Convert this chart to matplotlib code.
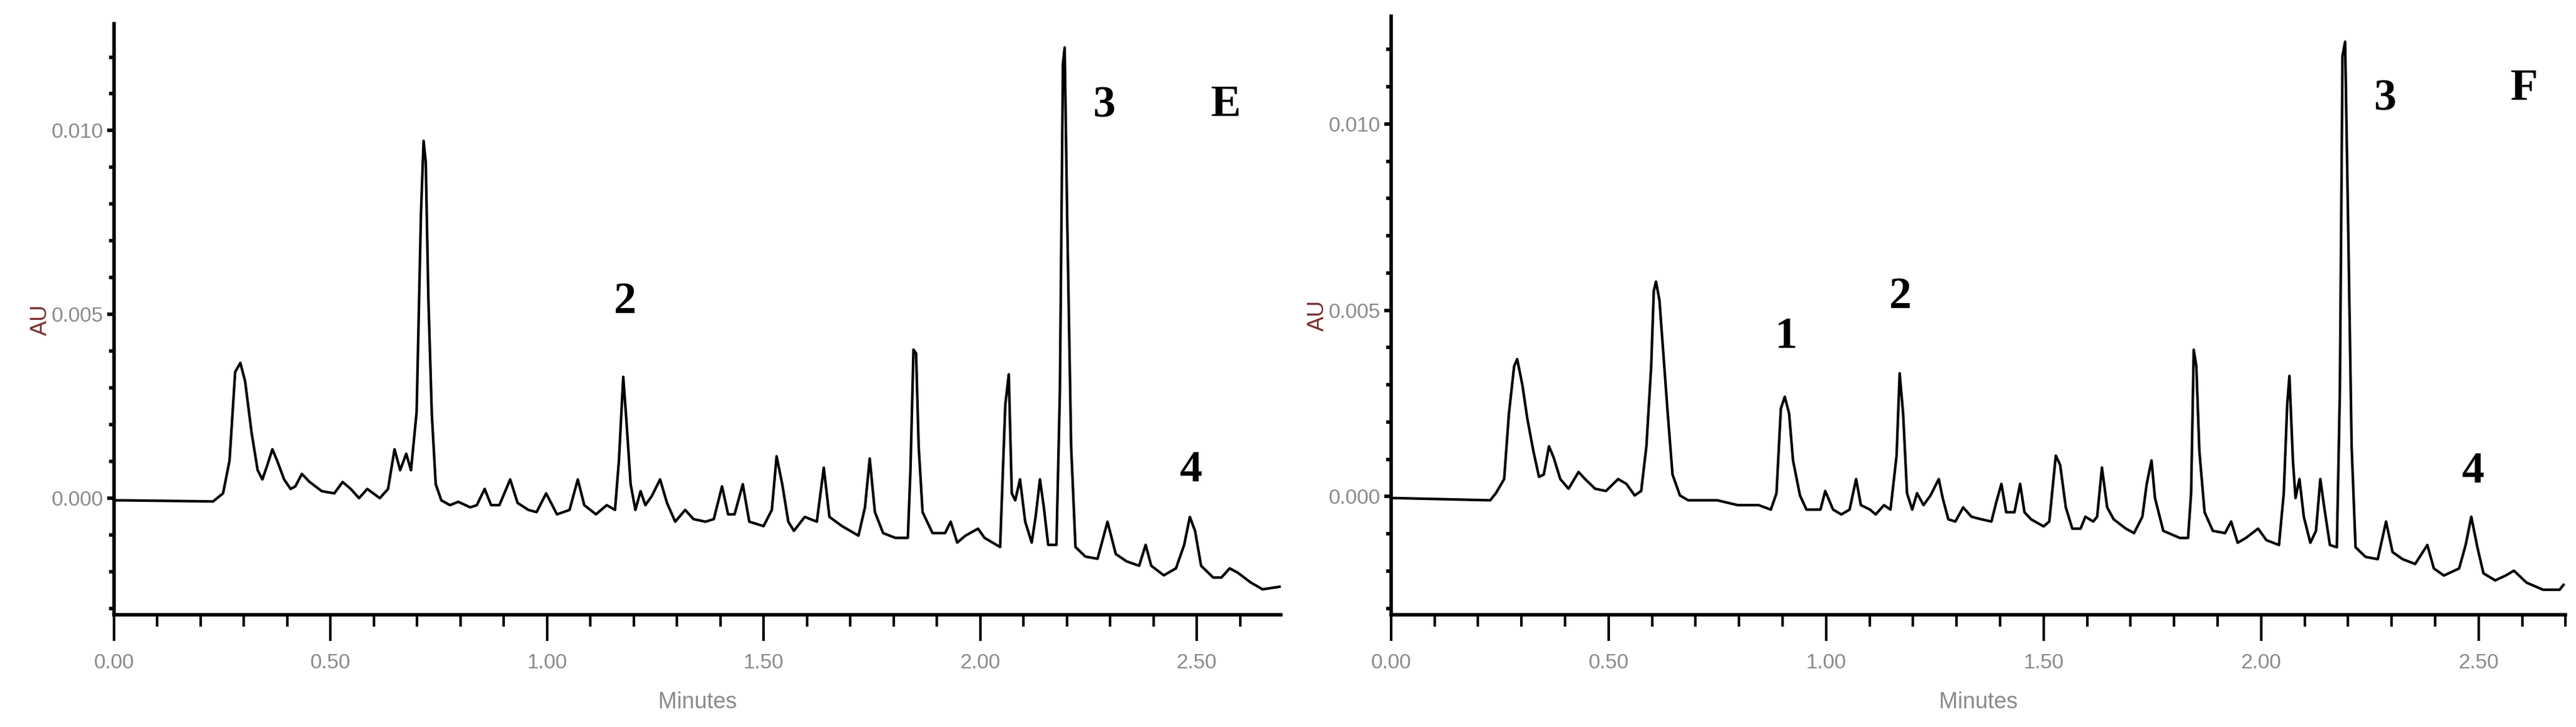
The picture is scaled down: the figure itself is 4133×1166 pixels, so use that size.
import matplotlib
matplotlib.use("Agg")
import matplotlib.pyplot as plt
from matplotlib.ticker import MultipleLocator, FormatStrFormatter

# panel E trace: time (min), absorbance (mAU)
t_e = [0.0, 0.023, 0.229, 0.252, 0.267, 0.280, 0.292, 0.303, 0.318, 0.332, 0.343, 0.354, 0.366, 0.377,
       0.393, 0.408, 0.419, 0.434, 0.452, 0.480, 0.509, 0.528, 0.547, 0.566, 0.585, 0.614, 0.633, 0.648,
       0.661, 0.675, 0.686, 0.699, 0.709, 0.715, 0.720, 0.726, 0.734, 0.743, 0.756, 0.776, 0.795, 0.823,
       0.838, 0.856, 0.871, 0.890, 0.915, 0.932, 0.957, 0.976, 0.998, 1.023, 1.052, 1.071, 1.086, 1.113,
       1.138, 1.157, 1.166, 1.176, 1.183, 1.193, 1.204, 1.216, 1.227, 1.242, 1.261, 1.277, 1.296, 1.319,
       1.338, 1.366, 1.385, 1.404, 1.418, 1.433, 1.452, 1.467, 1.500, 1.519, 1.530, 1.543, 1.557, 1.570,
       1.595, 1.623, 1.639, 1.652, 1.681, 1.719, 1.734, 1.745, 1.757, 1.776, 1.804, 1.833, 1.839, 1.846,
       1.852, 1.858, 1.867, 1.890, 1.919, 1.932, 1.947, 1.966, 1.995, 2.010, 2.046, 2.058, 2.066, 2.073,
       2.081, 2.092, 2.104, 2.119, 2.128, 2.138, 2.147, 2.157, 2.176, 2.184, 2.191, 2.195, 2.201, 2.210,
       2.220, 2.243, 2.271, 2.294, 2.313, 2.338, 2.367, 2.382, 2.395, 2.424, 2.452, 2.471, 2.484, 2.496,
       2.510, 2.538, 2.557, 2.576, 2.595, 2.624, 2.652, 2.691]
au_e = [-0.06, -0.06, -0.09, 0.13, 1.02, 3.43, 3.68, 3.18, 1.78, 0.76, 0.51, 0.89, 1.33, 1.02,
        0.51, 0.25, 0.32, 0.66, 0.44, 0.19, 0.13, 0.44, 0.25, 0.0, 0.25, 0.0, 0.25, 1.33,
        0.76, 1.21, 0.76, 2.35, 7.75, 9.72, 9.15, 5.46, 2.29, 0.38, -0.06, -0.19, -0.10, -0.25,
        -0.19, 0.25, -0.19, -0.19, 0.51, -0.13, -0.32, -0.38, 0.13, -0.44, -0.32, 0.51, -0.19, -0.44,
        -0.19, -0.32, 1.02, 3.30, 2.16, 0.38, -0.32, 0.19, -0.19, 0.06, 0.51, -0.13, -0.64, -0.32,
        -0.57, -0.64, -0.57, 0.32, -0.44, -0.44, 0.38, -0.64, -0.76, -0.32, 1.14, 0.38, -0.64, -0.89,
        -0.51, -0.64, 0.83, -0.51, -0.76, -1.02, -0.25, 1.08, -0.38, -0.95, -1.08, -1.08, 0.76, 4.04,
        3.94, 1.40, -0.38, -0.95, -0.95, -0.64, -1.21, -1.02, -0.83, -1.08, -1.33, 2.54, 3.37, 0.13,
        -0.06, 0.51, -0.64, -1.21, -0.51, 0.51, -0.25, -1.27, -1.27, 2.92, 11.82, 12.26, 7.50, 1.40,
        -1.33, -1.59, -1.65, -0.64, -1.52, -1.72, -1.84, -1.27, -1.84, -2.10, -1.91, -1.27, -0.51, -0.89,
        -1.84, -2.16, -2.16, -1.91, -2.03, -2.29, -2.48, -2.41]

# panel F trace
t_f = [0.0, 0.009, 0.228, 0.241, 0.260, 0.271, 0.283, 0.290, 0.302, 0.313, 0.327, 0.340, 0.351, 0.363,
       0.374, 0.389, 0.408, 0.431, 0.446, 0.469, 0.494, 0.522, 0.541, 0.560, 0.575, 0.587, 0.598, 0.604,
       0.609, 0.617, 0.625, 0.636, 0.647, 0.664, 0.683, 0.750, 0.797, 0.845, 0.873, 0.886, 0.896, 0.905,
       0.915, 0.924, 0.940, 0.955, 0.987, 0.998, 1.016, 1.035, 1.054, 1.069, 1.080, 1.101, 1.114, 1.133,
       1.148, 1.162, 1.169, 1.177, 1.186, 1.198, 1.209, 1.224, 1.240, 1.259, 1.268, 1.281, 1.297, 1.315,
       1.334, 1.357, 1.380, 1.391, 1.403, 1.414, 1.433, 1.446, 1.456, 1.471, 1.500, 1.513, 1.528, 1.538,
       1.551, 1.566, 1.585, 1.596, 1.614, 1.623, 1.634, 1.646, 1.661, 1.689, 1.708, 1.727, 1.737, 1.748,
       1.756, 1.775, 1.813, 1.832, 1.839, 1.845, 1.851, 1.858, 1.870, 1.889, 1.917, 1.931, 1.946, 1.965,
       1.993, 2.012, 2.041, 2.052, 2.060, 2.065, 2.073, 2.079, 2.088, 2.098, 2.113, 2.126, 2.136, 2.145,
       2.158, 2.174, 2.181, 2.187, 2.193, 2.200, 2.208, 2.217, 2.240, 2.268, 2.287, 2.302, 2.325, 2.354,
       2.382, 2.397, 2.420, 2.455, 2.470, 2.483, 2.497, 2.511, 2.538, 2.562, 2.581, 2.610, 2.648, 2.686,
       2.695]
au_f = [-0.04, -0.04, -0.10, 0.09, 0.47, 2.23, 3.50, 3.69, 2.99, 2.11, 1.23, 0.53, 0.59, 1.35,
        1.04, 0.47, 0.21, 0.66, 0.47, 0.21, 0.15, 0.47, 0.34, 0.03, 0.15, 1.35, 3.50, 5.52,
        5.77, 5.27, 4.00, 2.23, 0.59, 0.03, -0.10, -0.10, -0.23, -0.23, -0.35, 0.09, 2.36, 2.68,
        2.23, 0.97, 0.03, -0.35, -0.35, 0.15, -0.35, -0.48, -0.35, 0.47, -0.23, -0.35, -0.48, -0.23,
        -0.35, 1.10, 3.31, 2.23, 0.09, -0.35, 0.09, -0.23, 0.03, 0.47, -0.04, -0.61, -0.67, -0.29,
        -0.54, -0.61, -0.67, -0.16, 0.34, -0.42, -0.42, 0.34, -0.42, -0.61, -0.80, -0.67, 1.10, 0.85,
        -0.29, -0.86, -0.86, -0.54, -0.67, -0.54, 0.78, -0.29, -0.61, -0.86, -0.98, -0.54, 0.34, 0.97,
        -0.04, -0.92, -1.11, -1.11, 0.09, 3.94, 3.50, 1.22, -0.42, -0.92, -0.98, -0.67, -1.24, -1.11,
        -0.86, -1.17, -1.30, 0.09, 2.49, 3.24, 0.97, -0.04, 0.47, -0.54, -1.24, -0.92, 0.47, -0.29,
        -1.30, -1.36, 2.87, 11.83, 12.21, 7.29, 1.35, -1.36, -1.62, -1.68, -0.67, -1.49, -1.68, -1.81,
        -1.30, -1.93, -2.12, -1.93, -1.30, -0.54, -1.36, -2.06, -2.25, -2.12, -1.99, -2.31, -2.50, -2.50,
        -2.37]

# peak labels: (text, time, mAU)
labels_e = [("2", 1.18, 5.34), ("3", 2.285, 10.67), ("E", 2.567, 10.7), ("4", 2.487, 0.76)]
labels_f = [("1", 0.907, 4.28), ("2", 1.171, 5.35), ("3", 2.284, 10.67), ("F", 2.604, 10.95), ("4", 2.487, 0.66)]

tickfont = 'Liberation Sans'
fig = plt.figure(figsize=(41.33, 11.66), dpi=100)

panels = [([0.0442, 0.154, 0.453, 0.813], t_e, au_e, labels_e, 2.694),
          ([0.540, 0.154, 0.456, 0.824], t_f, au_f, labels_f, 2.70)]

for pos, t, au, labs, xmax in panels:
    ax = fig.add_axes(pos)
    ax.plot(t, [v * 1e-3 for v in au], color='black', lw=3.0)
    ax.set_xlim(0, xmax)
    ax.set_ylim(-0.00318, 0.0129)
    for s in ['top', 'right']:
        ax.spines[s].set_visible(False)
    for s in ['left', 'bottom']:
        ax.spines[s].set_linewidth(4)
    ax.xaxis.set_major_locator(MultipleLocator(0.5))
    ax.xaxis.set_minor_locator(MultipleLocator(0.1))
    ax.yaxis.set_major_locator(MultipleLocator(0.005))
    ax.yaxis.set_minor_locator(MultipleLocator(0.001))
    ax.xaxis.set_major_formatter(FormatStrFormatter('%.2f'))
    ax.yaxis.set_major_formatter(FormatStrFormatter('%.3f'))
    ax.tick_params(axis='x', which='major', length=30, width=3, pad=14, labelsize=24, labelcolor='#8a8a8a')
    ax.tick_params(axis='x', which='minor', length=14, width=3)
    ax.tick_params(axis='y', which='major', length=8, width=4, pad=4, labelsize=24, labelcolor='#8a8a8a')
    ax.tick_params(axis='y', which='minor', length=6, width=4)
    for lab in ax.get_xticklabels() + ax.get_yticklabels():
        lab.set_family(tickfont)
    ax.set_xlabel('Minutes', fontsize=26, color='#8a8a8a', family=tickfont, labelpad=22)
    ax.set_ylabel('AU', fontsize=26, color='#7a3030', family=tickfont, labelpad=0)
    for txt, x, y in labs:
        ax.text(x, y * 1e-3, txt, fontsize=52, fontweight='bold', family='Liberation Serif',
                ha='center', va='center')

fig.savefig('out.png', dpi=100)
